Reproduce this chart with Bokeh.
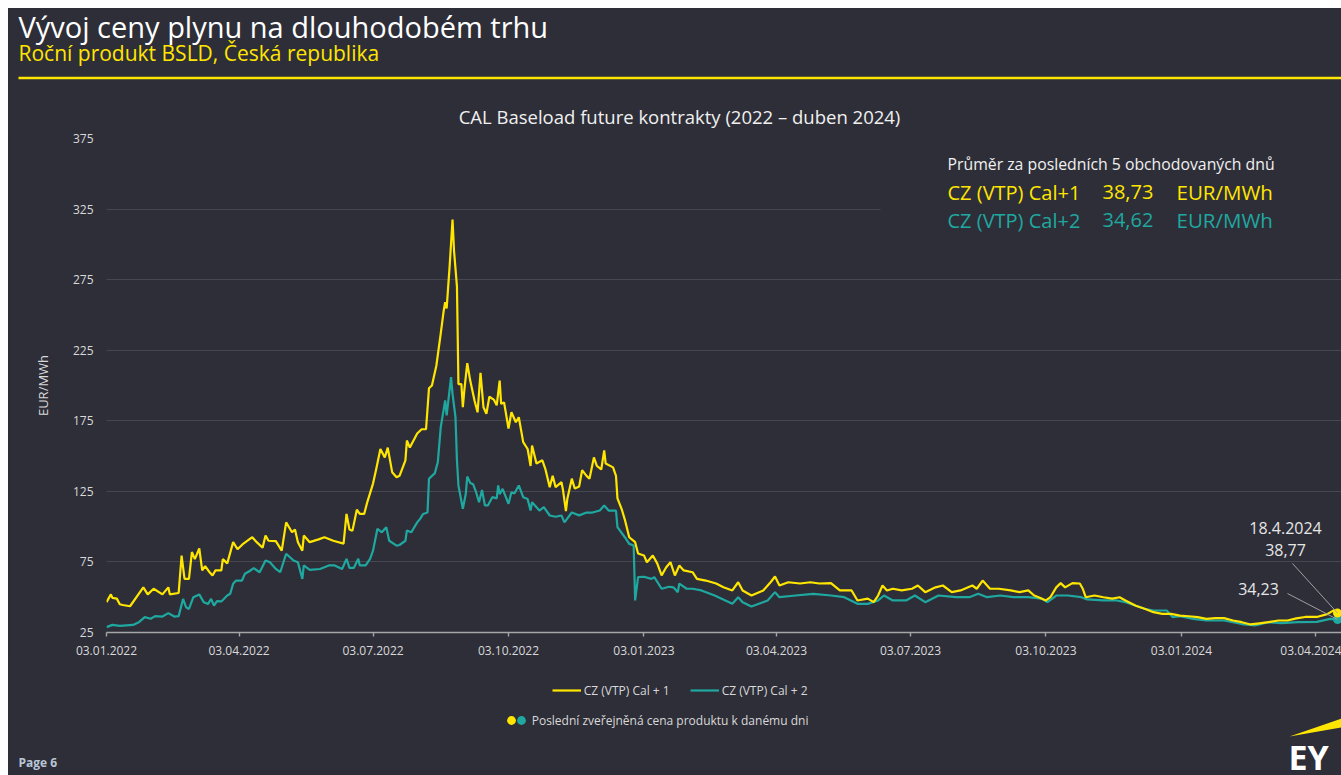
import pandas as pd
from bokeh.plotting import figure
from bokeh.models import (Range1d, FixedTicker, DatetimeTickFormatter, Label, BoxAnnotation,
                          PolyAnnotation, Legend, LegendItem, ColumnDataSource, Arrow, Spacer)
from bokeh.layouts import column, row
from bokeh.embed import file_html
from bokeh.resources import INLINE

# ---------------- data ----------------
cal1_dates = [
    "2022-01-03", "2022-01-06", "2022-01-07", "2022-01-10", "2022-01-12", "2022-01-14", "2022-01-19",
    "2022-01-28", "2022-01-31", "2022-02-04", "2022-02-10", "2022-02-14", "2022-02-15", "2022-02-21",
    "2022-02-23", "2022-02-25", "2022-02-28", "2022-03-02", "2022-03-04", "2022-03-07", "2022-03-09",
    "2022-03-11", "2022-03-14", "2022-03-16", "2022-03-18", "2022-03-22", "2022-03-23", "2022-03-26",
    "2022-03-30", "2022-04-02", "2022-04-06", "2022-04-12", "2022-04-15", "2022-04-19", "2022-04-21",
    "2022-04-23", "2022-04-28", "2022-05-02", "2022-05-05", "2022-05-09", "2022-05-11", "2022-05-13",
    "2022-05-16", "2022-05-17", "2022-05-21", "2022-05-27", "2022-05-31", "2022-06-06", "2022-06-13",
    "2022-06-15", "2022-06-17", "2022-06-19", "2022-06-22", "2022-06-24", "2022-06-27", "2022-06-29",
    "2022-07-03", "2022-07-05", "2022-07-08", "2022-07-11", "2022-07-13", "2022-07-16", "2022-07-19",
    "2022-07-21", "2022-07-25", "2022-07-26", "2022-07-28", "2022-08-02", "2022-08-05", "2022-08-08",
    "2022-08-10", "2022-08-12", "2022-08-15", "2022-08-18", "2022-08-20", "2022-08-21", "2022-08-22",
    "2022-08-24", "2022-08-26", "2022-08-27", "2022-08-29", "2022-08-30", "2022-09-01", "2022-09-02",
    "2022-09-03", "2022-09-05", "2022-09-07", "2022-09-10", "2022-09-12", "2022-09-14", "2022-09-16",
    "2022-09-18", "2022-09-20", "2022-09-23", "2022-09-25", "2022-09-27", "2022-09-28", "2022-09-30",
    "2022-10-03", "2022-10-05", "2022-10-08", "2022-10-10", "2022-10-13", "2022-10-16", "2022-10-18",
    "2022-10-19", "2022-10-22", "2022-10-26", "2022-10-28", "2022-10-31", "2022-11-02", "2022-11-04",
    "2022-11-08", "2022-11-09", "2022-11-11", "2022-11-12", "2022-11-15", "2022-11-17", "2022-11-20",
    "2022-11-22", "2022-11-25", "2022-11-27", "2022-11-30", "2022-12-02", "2022-12-05", "2022-12-07",
    "2022-12-08", "2022-12-13", "2022-12-15", "2022-12-16", "2022-12-19", "2022-12-21", "2022-12-24",
    "2022-12-28", "2022-12-30", "2023-01-03", "2023-01-05", "2023-01-09", "2023-01-12", "2023-01-15",
    "2023-01-18", "2023-01-21", "2023-01-24", "2023-01-27", "2023-01-30", "2023-02-05", "2023-02-08",
    "2023-02-14", "2023-02-21", "2023-02-26", "2023-03-04", "2023-03-08", "2023-03-11", "2023-03-17",
    "2023-03-25", "2023-03-30", "2023-04-02", "2023-04-05", "2023-04-11", "2023-04-19", "2023-04-26",
    "2023-05-02", "2023-05-10", "2023-05-16", "2023-05-24", "2023-05-28", "2023-06-04", "2023-06-08",
    "2023-06-11", "2023-06-14", "2023-06-17", "2023-06-21", "2023-06-27", "2023-07-04", "2023-07-08",
    "2023-07-13", "2023-07-20", "2023-07-25", "2023-07-31", "2023-08-06", "2023-08-14", "2023-08-17",
    "2023-08-21", "2023-08-26", "2023-09-01", "2023-09-09", "2023-09-15", "2023-09-21", "2023-09-25",
    "2023-09-28", "2023-10-03", "2023-10-06", "2023-10-10", "2023-10-13", "2023-10-16", "2023-10-21",
    "2023-10-26", "2023-10-28", "2023-10-30", "2023-11-05", "2023-11-11", "2023-11-17", "2023-11-22",
    "2023-11-26", "2023-12-03", "2023-12-09", "2023-12-15", "2023-12-21", "2023-12-27", "2024-01-02",
    "2024-01-08", "2024-01-14", "2024-01-20", "2024-01-26", "2024-02-01", "2024-02-07", "2024-02-13",
    "2024-02-19", "2024-02-25", "2024-03-02", "2024-03-09", "2024-03-15", "2024-03-21", "2024-03-27",
    "2024-04-04", "2024-04-11", "2024-04-16", "2024-04-18",
]
cal1_values = [
    46.5, 52, 49.5, 49, 45, 44.5, 43.6,
    57, 52, 56, 52, 57, 52, 53,
    79.5, 63, 63, 82, 77, 84.5, 69,
    72, 67.7, 65.4, 69, 69, 77, 74,
    89, 84, 88, 92.5, 89, 85, 93.7,
    90, 89.7, 83, 103, 96, 98, 89,
    83, 93.7, 89, 91, 92.5, 90, 88,
    109, 98, 97, 112, 109, 109, 117,
    130.5, 140, 155, 149, 156, 138.6, 135,
    136, 147, 161, 156, 166, 169, 169,
    198, 200, 214, 237, 253, 259, 254.6,
    284, 317.6, 295.6, 270, 201, 201, 184.6,
    196.5, 215.8, 203.5, 189, 181, 209, 184.6,
    180, 192, 190, 186, 203.5, 187, 188,
    169.5, 181, 174, 177.5, 159.9, 155, 143,
    157.5, 144.7, 147, 141, 128, 136, 128,
    131.5, 126, 111, 120, 134, 127, 128.5,
    140, 136, 134, 149, 143, 140.5, 154,
    144.7, 142, 136, 120, 112, 105, 92.5,
    89, 81, 79.6, 74.8, 79.6, 74, 65.4,
    71, 74.8, 65.4, 72.5, 69, 67.7, 63,
    61.8, 59.7, 57, 54.8, 60.6, 54.8, 51.2,
    54.8, 60.6, 64.7, 58.3, 60.6, 59.7, 60.6,
    59.7, 60, 54.8, 54.8, 47.7, 49, 46.5,
    51.2, 58.3, 54.8, 56, 54.8, 56, 58.3,
    53.6, 57, 58.3, 53.6, 54.8, 58.3, 56,
    61.8, 56, 56, 54.8, 53.6, 54.8, 51.2,
    50, 47.7, 50, 57, 60, 57, 60,
    59.7, 56, 50, 51.2, 50, 49, 50,
    47.7, 44, 41.8, 39.4, 38.2, 38.2, 37,
    36.5, 35.9, 34.7, 35.2, 35.2, 33.5, 32.3,
    30.7, 31.5, 32.3, 33.5, 33.5, 35, 36,
    36, 38, 41, 38.77,
]

cal2_dates = [
    "2022-01-03", "2022-01-07", "2022-01-12", "2022-01-21", "2022-01-25", "2022-01-29", "2022-02-02",
    "2022-02-05", "2022-02-10", "2022-02-14", "2022-02-18", "2022-02-21", "2022-02-24", "2022-02-26",
    "2022-02-28", "2022-03-03", "2022-03-07", "2022-03-10", "2022-03-13", "2022-03-15", "2022-03-17",
    "2022-03-19", "2022-03-22", "2022-03-26", "2022-03-28", "2022-03-30", "2022-04-01", "2022-04-05",
    "2022-04-07", "2022-04-10", "2022-04-13", "2022-04-17", "2022-04-21", "2022-04-24", "2022-04-28",
    "2022-05-01", "2022-05-05", "2022-05-10", "2022-05-13", "2022-05-16", "2022-05-17", "2022-05-21",
    "2022-05-28", "2022-06-03", "2022-06-07", "2022-06-12", "2022-06-15", "2022-06-17", "2022-06-20",
    "2022-06-23", "2022-06-24", "2022-06-28", "2022-07-01", "2022-07-03", "2022-07-06", "2022-07-09",
    "2022-07-12", "2022-07-14", "2022-07-19", "2022-07-21", "2022-07-25", "2022-07-26", "2022-07-29",
    "2022-08-02", "2022-08-04", "2022-08-06", "2022-08-09", "2022-08-10", "2022-08-14", "2022-08-16",
    "2022-08-18", "2022-08-21", "2022-08-22", "2022-08-25", "2022-08-26", "2022-08-28", "2022-08-29",
    "2022-08-30", "2022-09-02", "2022-09-04", "2022-09-05", "2022-09-07", "2022-09-09", "2022-09-11",
    "2022-09-13", "2022-09-15", "2022-09-17", "2022-09-19", "2022-09-22", "2022-09-25", "2022-09-26",
    "2022-09-27", "2022-09-29", "2022-10-03", "2022-10-05", "2022-10-07", "2022-10-10", "2022-10-13",
    "2022-10-16", "2022-10-18", "2022-10-19", "2022-10-24", "2022-10-27", "2022-10-31", "2022-11-04",
    "2022-11-08", "2022-11-10", "2022-11-15", "2022-11-20", "2022-11-25", "2022-11-29", "2022-12-04",
    "2022-12-07", "2022-12-10", "2022-12-15", "2022-12-16", "2022-12-21", "2022-12-24", "2022-12-27",
    "2022-12-28", "2022-12-30", "2023-01-03", "2023-01-08", "2023-01-10", "2023-01-15", "2023-01-20",
    "2023-01-23", "2023-01-26", "2023-01-27", "2023-02-01", "2023-02-05", "2023-02-11", "2023-02-20",
    "2023-03-04", "2023-03-08", "2023-03-11", "2023-03-17", "2023-03-28", "2023-04-02", "2023-04-05",
    "2023-04-16", "2023-04-28", "2023-05-10", "2023-05-19", "2023-05-28", "2023-06-04", "2023-06-11",
    "2023-06-15", "2023-06-21", "2023-06-30", "2023-07-06", "2023-07-13", "2023-07-22", "2023-08-03",
    "2023-08-12", "2023-08-18", "2023-08-24", "2023-09-02", "2023-09-11", "2023-09-21", "2023-09-30",
    "2023-10-04", "2023-10-10", "2023-10-18", "2023-10-27", "2023-10-31", "2023-11-11", "2023-11-20",
    "2023-11-26", "2023-12-03", "2023-12-09", "2023-12-15", "2023-12-24", "2023-12-28", "2024-01-02",
    "2024-01-11", "2024-01-20", "2024-02-01", "2024-02-13", "2024-02-22", "2024-03-02", "2024-03-11",
    "2024-03-22", "2024-04-04", "2024-04-13", "2024-04-18",
]
cal2_values = [
    28.8, 30.4, 29.7, 30.4, 32.3, 35.9, 34.7,
    36.6, 36.3, 38.7, 36.3, 36.6, 48.8, 42.9,
    41.7, 50, 52, 46.5, 45.3, 48.8, 44.1,
    47.2, 47, 51.2, 52.4, 59.5, 61.8, 61.8,
    66.6, 68.4, 70.6, 67.7, 76, 74.7, 70,
    67.7, 80.8, 76, 74.7, 63, 72.5, 69.4,
    70, 72.5, 72.5, 70, 77.2, 70.8, 70.8,
    77.2, 72.5, 72.5, 77.2, 83, 98.5, 96,
    99.6, 90, 86.6, 87, 90, 97.3, 96,
    103, 105.5, 109, 110, 133.9, 137.9, 145.7,
    170.5, 189.4, 178.8, 205.9, 194, 177.5, 146.9,
    129.2, 112.7, 123.3, 135.5, 131, 130, 124.4,
    117.3, 126, 115, 115, 120.9, 120, 129.2,
    123, 126.8, 116.2, 124.4, 123.5, 129.2, 120.9,
    119.5, 111.4, 117.3, 111.4, 113.8, 107.9, 107,
    107.9, 103, 110, 108, 110, 110, 111.4,
    115, 111.4, 111.4, 99.6, 92.5, 87.8, 86.6,
    47.7, 64.2, 64.5, 63, 64.2, 56, 57.4,
    57, 53.6, 59.7, 56, 56, 54.8, 51.2,
    45.3, 50, 46.5, 43.4, 47.7, 53.6, 50,
    51.2, 52.4, 51.2, 50, 45.3, 45.3, 47.7,
    51.2, 47.7, 47.7, 51.2, 46.5, 51.2, 50,
    50, 52.4, 50, 51.2, 50, 50, 49,
    46.5, 51.2, 51.2, 50, 48.4, 47.7, 47.7,
    46.5, 44, 41.8, 40.6, 40.6, 35.9, 36.5,
    34.7, 33.5, 33.5, 31, 30, 32.3, 31.6,
    32.3, 32.5, 34.7, 34.23,
]

series_names = ["CZ (VTP) Cal + 1", "CZ (VTP) Cal + 2"]
last_price_label = "Poslední zveřejněná cena produktu k danému dni"
avg_names = ["CZ (VTP) Cal+1", "CZ (VTP) Cal+2"]
avg_values = [38.73, 34.62]
x_tick_dates = ["2022-01-03", "2022-04-03", "2022-07-03", "2022-10-03", "2023-01-03",
                "2023-04-03", "2023-07-03", "2023-10-03", "2024-01-03", "2024-04-03"]
y_ticks = [25, 75, 125, 175, 225, 275, 325, 375]

# ---------------- styling ----------------
BG = "#2e2e38"
YEL = "#ffe600"
TEAL = "#1fa8a0"
GRID = "#474751"
TXT = "#d9d9d9"
FONT = "Open Sans"
W = 1333

d1 = pd.to_datetime(cal1_dates)
d2 = pd.to_datetime(cal2_dates)


def blank_fig(h):
    f = figure(width=W, height=h, x_range=Range1d(0, 1), y_range=Range1d(0, 1),
               x_axis_location=None, y_axis_location=None,
               min_border_left=0, min_border_right=0, min_border_top=0, min_border_bottom=0,
               output_backend="svg", toolbar_location=None,
               background_fill_color=BG, border_fill_color=BG, frame_align=False)
    f.outline_line_color = None
    f.xgrid.visible = False
    f.ygrid.visible = False
    return f


def lab(fig, text, x, y, size, color, align="left", style="normal"):
    # y is the wanted baseline (screen units); small empirical lift for the renderer
    fig.add_layout(Label(text=text, x=x, y=y + 0.37 * size, x_units="screen", y_units="screen",
                         text_font=FONT, text_font_size=f"{size}px", text_color=color,
                         text_align=align, text_baseline="alphabetic", text_font_style=style))


def fmt_num(v):
    return f"{v:.2f}".replace(".", ",")


# ---------------- header ----------------
H = blank_fig(122)
lab(H, "Vývoj ceny plynu na dlouhodobém trhu", 10, 93, 29, "#ffffff")
lab(H, "Roční produkt BSLD, Česká republika", 10, 69.5, 21, YEL)
H.add_layout(BoxAnnotation(left=10, right=1340, bottom=51.2, top=53.8,
                           left_units="screen", right_units="screen",
                           bottom_units="screen", top_units="screen",
                           fill_color=YEL, fill_alpha=1, line_color=None))
lab(H, "CAL Baseload future kontrakty (2022 – duben 2024)", 671, 7.5, 18.5, "#f0f0f0", align="center")

# ---------------- main chart ----------------
p = figure(width=W, height=530, x_axis_type="datetime",
           x_range=Range1d(pd.Timestamp("2022-01-03"), pd.Timestamp("2024-04-20 17:00")),
           y_range=Range1d(25, 375),
           output_backend="svg", toolbar_location=None,
           min_border_left=98, min_border_right=0, min_border_top=8, min_border_bottom=28,
           background_fill_color=BG, border_fill_color=BG, frame_align=False)
p.outline_line_color = None

p.xgrid.visible = False
p.ygrid.grid_line_color = GRID
p.ygrid.grid_line_width = 1

p.yaxis.ticker = FixedTicker(ticks=y_ticks)
p.yaxis.axis_line_color = None
p.yaxis.major_tick_line_color = None
p.yaxis.minor_tick_line_color = None
p.yaxis.major_label_text_color = TXT
p.yaxis.major_label_text_font = FONT
p.yaxis.major_label_text_font_size = "12px"
p.yaxis.major_label_standoff = 7
p.yaxis.axis_label = "EUR/MWh"
p.yaxis.axis_label_text_color = TXT
p.yaxis.axis_label_text_font = FONT
p.yaxis.axis_label_text_font_size = "13px"
p.yaxis.axis_label_text_font_style = "normal"
p.yaxis.axis_label_standoff = 18

p.xaxis.ticker = FixedTicker(ticks=[pd.Timestamp(d).value // 10**6 for d in x_tick_dates])
fmt = "%d.%m.%Y"
p.xaxis.formatter = DatetimeTickFormatter(days=fmt, months=fmt, years=fmt, hours=fmt,
                                          hourmin=fmt, minutes=fmt, minsec=fmt, seconds=fmt,
                                          milliseconds=fmt, microseconds=fmt)
p.xaxis.axis_line_color = "#a6a6a6"
p.xaxis.axis_line_width = 1.6
p.xaxis.major_tick_line_color = "#a6a6a6"
p.xaxis.major_tick_line_width = 1.4
p.xaxis.major_tick_out = 4
p.xaxis.major_tick_in = 0
p.xaxis.minor_tick_line_color = None
p.xaxis.major_label_text_color = TXT
p.xaxis.major_label_text_font = FONT
p.xaxis.major_label_text_font_size = "12px"
p.xaxis.major_label_standoff = 9

src1 = ColumnDataSource(dict(date=d1, value=cal1_values))
src2 = ColumnDataSource(dict(date=d2, value=cal2_values))
p.line("date", "value", source=src2, line_color=TEAL, line_width=2.2)
p.line("date", "value", source=src1, line_color=YEL, line_width=2.2)

last1 = ColumnDataSource(dict(date=[d1[-1]], value=[cal1_values[-1]]))
last2 = ColumnDataSource(dict(date=[d2[-1]], value=[cal2_values[-1]]))
p.scatter("date", "value", source=last2, size=9, fill_color=TEAL, line_color=None)
p.scatter("date", "value", source=last1, size=9, fill_color=YEL, line_color=None)

# background patch behind the averages box (hides the top grid lines)
p.add_layout(BoxAnnotation(left=774, right=1240, bottom=385, top=505,
                           left_units="screen", right_units="screen",
                           bottom_units="screen", top_units="screen",
                           fill_color=BG, fill_alpha=1, line_color=None))

# leader lines to the last published prices
p.add_layout(Arrow(end=None, x_start=1186, y_start=69, start_units="screen",
                   x_end=d1[-1], y_end=cal1_values[-1], end_units="data",
                   line_color="#a0a0a0", line_width=1))
p.add_layout(Arrow(end=None, x_start=1181, y_start=39, start_units="screen",
                   x_end=d2[-1], y_end=cal2_values[-1], end_units="data",
                   line_color="#a0a0a0", line_width=1))

last_day = d1[-1]
lab(p, f"{last_day.day}.{last_day.month}.{last_day.year}", 1179, 99, 16, "#e6e6e6", align="center")
lab(p, fmt_num(cal1_values[-1]), 1179, 77, 16, "#e6e6e6", align="center")
lab(p, fmt_num(cal2_values[-1]), 1152, 38, 16, "#e6e6e6", align="center")

# averages box
lab(p, "Průměr za posledních 5 obchodovaných dnů", 841, 462.5, 15.8, "#f0f0f0")
for i, (nm, v, c) in enumerate(zip(avg_names, avg_values, [YEL, TEAL])):
    yb = 432.7 - i * 28
    lab(p, nm, 841, yb, 20, c)
    lab(p, fmt_num(v), 996, yb, 20, c)
    lab(p, "EUR/MWh", 1070, yb, 20.5, c)

# ---------------- footer (legend, page number, logo) ----------------
# legend proxies: the same series drawn on the footer's own (0..1) scales, i.e. out of view
F = blank_fig(115)
pl1 = F.line(x=d1, y=cal1_values, line_color=YEL, line_width=2.2)
pl2 = F.line(x=d2, y=cal2_values, line_color=TEAL, line_width=2.2)
pd1 = F.scatter(x=[d1[-1]], y=[cal1_values[-1]], size=9, fill_color=YEL, line_color=None)
pd2 = F.scatter(x=[d2[-1]], y=[cal2_values[-1]], size=9, fill_color=TEAL, line_color=None)

common = dict(orientation="horizontal", padding=0, margin=0, background_fill_alpha=0,
              border_line_color=None, label_text_color=TXT, label_text_font=FONT,
              label_text_font_size="12px")
leg1 = Legend(items=[LegendItem(label=series_names[0], renderers=[pl1]),
                     LegendItem(label=series_names[1], renderers=[pl2])],
              location=(543.7, 76.3), glyph_width=29, glyph_height=16, label_height=16,
              label_standoff=3, spacing=20, **common)
leg2a = Legend(items=[LegendItem(label=" ", renderers=[pd1])],
               location=(492, 44), glyph_width=22, glyph_height=22, label_standoff=0,
               spacing=0, **common)
leg2b = Legend(items=[LegendItem(label=last_price_label, renderers=[pd2])],
               location=(501.7, 44), glyph_width=22, glyph_height=22, label_standoff=0,
               spacing=0, **common)
for lg in (leg1, leg2a, leg2b):
    F.add_layout(lg)

lab(F, "Page 6", 10, 8.3, 12, "#b8c6d6", style="bold")
F.add_layout(PolyAnnotation(xs=[1281, 1333, 1333], ys=[39, 57, 48],
                            xs_units="screen", ys_units="screen",
                            fill_color=YEL, fill_alpha=1, line_color=None))
lab(F, "EY", 1280, 6, 34, "#ffffff", style="bold")

layout = column(Spacer(width=1341, height=8),
                row(Spacer(width=8, height=767),
                    column(H, p, F, spacing=0, styles={"background-color": BG}),
                    spacing=0),
                spacing=0)

open("out.html", "w").write(file_html(layout, INLINE))
